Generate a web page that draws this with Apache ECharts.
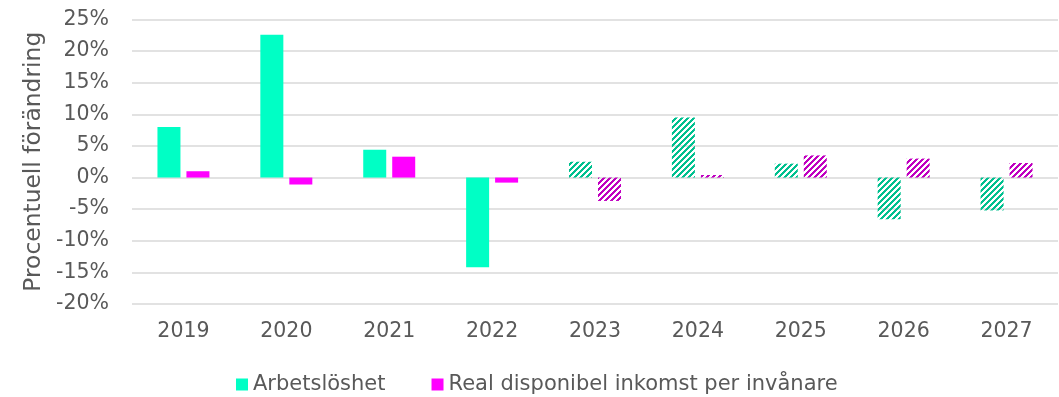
<!DOCTYPE html>
<html>
<head>
<meta charset="utf-8">
<script src="https://cdn.jsdelivr.net/npm/echarts@6/dist/echarts.min.js"></script>
<style>
  html, body { margin: 0; padding: 0; background: #ffffff; }
  #chart { width: 1059px; height: 397px; }
</style>
</head>
<body>
<div id="chart"></div>
<script>
// Years on the category axis; 2023 onwards are forecasts (drawn hatched)
const years = ['2019', '2020', '2021', '2022', '2023', '2024', '2025', '2026', '2027'];
const firstForecastIndex = 4;

// Annual percentage change
const arbetsloshet = [8.0, 22.6, 4.4, -14.2, 2.5, 9.5, 2.2, -6.6, -5.2];
const realInkomst = [1.0, -1.1, 3.3, -0.8, -3.7, 0.4, 3.5, 3.0, 2.3];

const seriesNames = ['Arbetslöshet', 'Real disponibel inkomst per invånare'];

const textColor = '#595959';
const font = '"DejaVu Sans", Verdana, sans-serif';

// Diagonal stripe tile used for forecast bars
function stripePattern(color) {
  const size = 6;
  const c = document.createElement('canvas');
  c.width = size;
  c.height = size;
  const ctx = c.getContext('2d');
  ctx.fillStyle = color;
  for (let x = 0; x < size; x++) {
    for (let y = 0; y < size; y++) {
      if ((x + y) % size < 3) ctx.fillRect(x, y, 1, 1);
    }
  }
  return { image: c, repeat: 'repeat' };
}

function buildData(values, hatchColor) {
  const pattern = stripePattern(hatchColor);
  return values.map((v, i) => i >= firstForecastIndex
    ? { value: v, itemStyle: { color: pattern } }
    : v);
}

const chart = echarts.init(document.getElementById('chart'), null, { renderer: 'canvas' });

chart.setOption({
  animation: false,
  backgroundColor: '#ffffff',
  textStyle: { fontFamily: font, color: textColor },
  grid: { left: 132, right: 1, top: 19.5, bottom: 93, containLabel: false },
  legend: {
    top: 369,
    left: 231,
    itemWidth: 12,
    itemHeight: 12,
    itemGap: 46,
    icon: 'rect',
    textStyle: { fontSize: 21, color: textColor, fontFamily: font },
    data: seriesNames
  },
  xAxis: {
    type: 'category',
    data: years,
    axisLine: { show: false },
    axisTick: { show: false },
    axisLabel: { color: textColor, fontSize: 20.5, margin: 17, fontFamily: font }
  },
  yAxis: {
    type: 'value',
    min: -20,
    max: 25,
    interval: 5,
    name: 'Procentuell förändring',
    nameLocation: 'middle',
    nameGap: 80,
    nameTextStyle: { color: textColor, fontSize: 23.4, fontFamily: font },
    axisLine: { show: false },
    axisTick: { show: false },
    axisLabel: { formatter: '{value}%', color: textColor, fontSize: 20.5, margin: 23, fontFamily: font },
    splitLine: { lineStyle: { color: '#d9d9d9', width: 1.5 } }
  },
  series: [
    {
      name: seriesNames[0],
      type: 'bar',
      barWidth: 23,
      barGap: '26%',
      itemStyle: { color: '#00ffc5' },
      data: buildData(arbetsloshet, '#00c08f')
    },
    {
      name: seriesNames[1],
      type: 'bar',
      barWidth: 23,
      barGap: '26%',
      itemStyle: { color: '#ff00ff' },
      data: buildData(realInkomst, '#c000c0')
    }
  ]
});
</script>
</body>
</html>
